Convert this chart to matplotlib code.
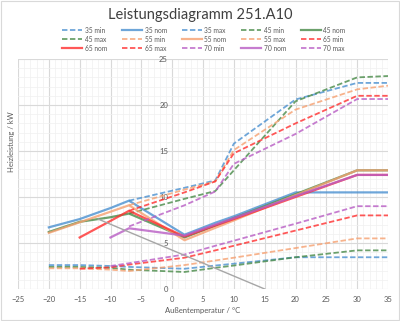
import numpy as np
import matplotlib.pyplot as plt
from matplotlib.patches import Rectangle

nan = np.nan

# Außentemperatur stuetzstellen
temps = [-20, -15, -10, -7, 2, 7, 10, 20, 30, 35]

min_35 = [2.6, 2.6, 2.5, 2.4, 2.2, 2.55, 2.75, 3.45, 3.45, 3.45]
nom_35 = [6.7, 7.6, 8.8, 9.6, 5.9, 7.2, 7.9, 10.5, 10.5, 10.5]
max_35 = [nan, nan, nan, 9.6, 11.0, 11.8, 15.8, 20.6, 22.4, 22.4]

min_45 = [2.4, 2.4, 2.3, 2.1, 1.85, 2.3, 2.55, 3.45, 4.2, 4.2]
nom_45 = [6.2, 7.3, 7.8, 8.2, 5.6, 6.9, 7.7, 10.3, 12.9, 12.9]
max_45 = [nan, nan, nan, 8.2, 9.8, 10.65, 12.9, 20.4, 23.0, 23.15]

min_55 = [2.25, 2.25, 2.1, 1.95, 2.6, 3.1, 3.4, 4.45, 5.5, 5.5]
nom_55 = [6.1, 7.25, 8.4, 9.1, 5.3, 6.65, 7.45, 10.2, 12.9, 12.9]
max_55 = [nan, nan, nan, 9.1, 10.8, 11.7, 15.1, 19.5, 21.7, 22.1]

min_65 = [nan, 2.2, 2.35, 2.65, 3.4, 4.2, 4.7, 6.35, 8.0, 8.0]
nom_65 = [nan, 5.6, 7.4, 8.5, 5.7, 6.9, 7.6, 10.0, 12.4, 12.4]
max_65 = [nan, nan, nan, 8.5, 10.5, 11.7, 14.75, 18.0, 21.0, 21.0]

min_70 = [nan, nan, 2.5, 2.8, 3.75, 4.7, 5.25, 7.1, 9.0, 9.0]
nom_70 = [nan, nan, 5.6, 6.6, 5.8, 7.0, 7.7, 10.1, 12.4, 12.4]
max_70 = [nan, nan, nan, 6.8, 9.1, 10.6, 13.6, 16.85, 20.65, 20.65]

# Heizlast (graue Linie)
last_temps = [-12, 15]
last_vals = [7.6, 0]

series = [
    ('35', '#4a90d0', min_35, nom_35, max_35),
    ('45', '#478a47', min_45, nom_45, max_45),
    ('55', '#f6a070', min_55, nom_55, max_55),
    ('65', '#ff2e2e', min_65, nom_65, max_65),
    ('70', '#b85cc4', min_70, nom_70, max_70),
]

plt.rcParams['font.family'] = ['Lato', 'DejaVu Sans']

fig = plt.figure(figsize=(4, 3.21), dpi=100)
ax = fig.add_axes([0.045, 0.0997, 0.925, 0.7165])

dash = (0, (3, 1.4))
handles = []
for name, col, vmin, vnom, vmax in series:
    h1, = ax.plot(temps, vmin, color=col, lw=1.3, ls=dash, alpha=0.8, label=name + ' min')
    h2, = ax.plot(temps, vnom, color=col, lw=1.6, alpha=0.8, label=name + ' nom')
    h3, = ax.plot(temps, vmax, color=col, lw=1.3, ls=dash, alpha=0.8, label=name + ' max')
    handles += [h1, h2, h3]

ax.plot(last_temps, last_vals, color='#a6a6a6', lw=1.0)

ax.set_xlim(-25, 35)
ax.set_ylim(0, 25)
ax.set_xticks(np.arange(-25, 36, 5))
ax.set_yticks(np.arange(0, 26, 5))
ax.set_xticks(np.arange(-25, 36, 1), minor=True)
ax.set_yticks(np.arange(0, 26, 1), minor=True)
ax.grid(which='major', color='#d9d9d9', lw=0.8)
ax.grid(which='minor', color='#f0f0f0', lw=0.5)
ax.set_axisbelow(True)
for s in ax.spines.values():
    s.set_visible(False)
ax.spines['left'].set_position(('data', 0))
ax.tick_params(which='both', length=0, labelsize=5.5, labelcolor='#595959')
ax.tick_params(axis='x', pad=5)
ax.tick_params(axis='y', pad=3)

ax.set_xlabel('Außentemperatur / °C', fontsize=5.5, color='#595959', labelpad=3)
fig.text(0.03, 0.56, 'Heizleistung / kW', rotation=90, fontsize=5.5,
         color='#595959', ha='center', va='center')

fig.text(0.5, 0.952, 'Leistungsdiagramm 251.A10', fontsize=10.5,
         color='#404040', ha='center', va='center')

# Legende zeilenweise anordnen
order = [r * 5 + c for c in range(5) for r in range(3)]
fig.legend([handles[i] for i in order], [handles[i].get_label() for i in order],
           ncol=5, loc='center', bbox_to_anchor=(0.51, 0.878), frameon=False,
           fontsize=4.8, labelcolor='#595959', handlelength=3.0, handletextpad=0.4,
           columnspacing=2.2, labelspacing=0.3)

fig.patches.append(Rectangle((0.002, 0.002), 0.996, 0.996, transform=fig.transFigure,
                             fill=False, edgecolor='#d9d9d9', lw=0.8))

plt.savefig('out.png', dpi=100)
